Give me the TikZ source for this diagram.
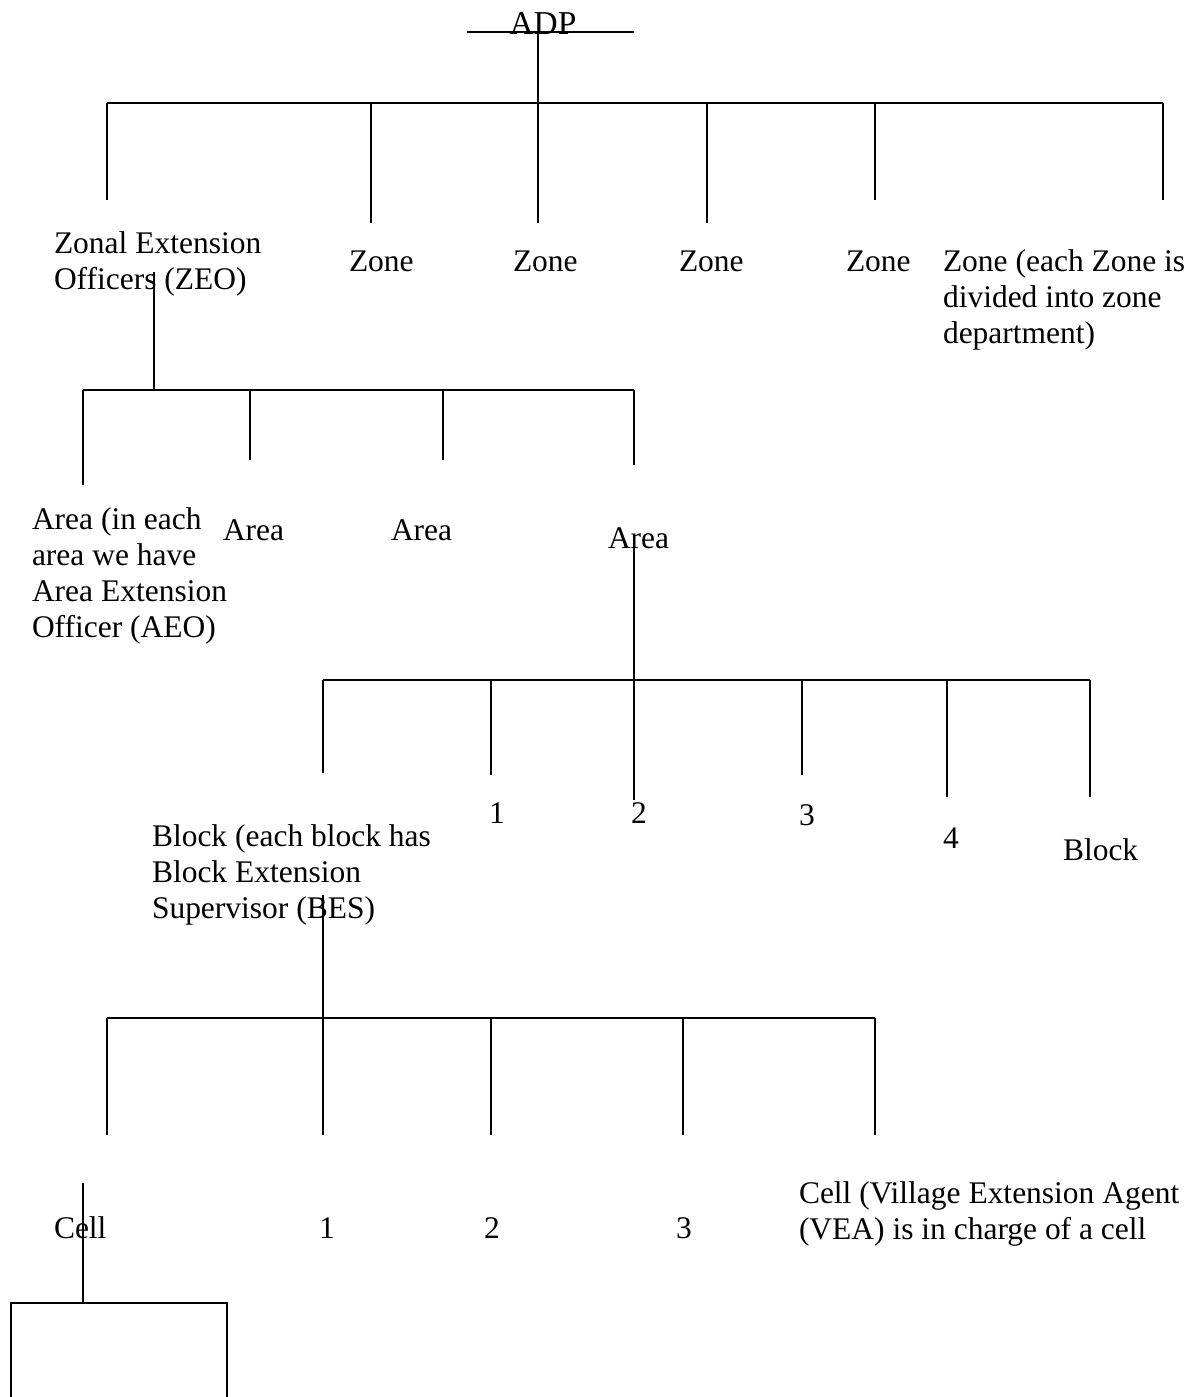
\documentclass[tikz,border=0pt]{standalone}
\usepackage{fontspec}
\setmainfont{Liberation Serif}
\begin{document}
\begin{tikzpicture}[x=0.05cm,y=-0.05cm,
  every path/.style={line width=0.1cm},
  lbl/.style={inner sep=0pt,anchor=base west,align=left,
    font=\fontsize{44.8}{51.2}\selectfont}]
\useasboundingbox (0,0) rectangle (1198,1397);

% ---------- level 0: ADP ----------
\node[lbl,anchor=base,font=\fontsize{47.5}{51.2}\selectfont] (adp) at (543,34) {ADP};
\coordinate (adpL) at (467,32);
\coordinate (adpR) at (634,32);
\coordinate (adpC) at (538,32);
\draw (adpL) -- (adpR);

% ---------- level 1: zones ----------
\coordinate (zbarL) at (107,103);
\coordinate (zbarR) at (1163,103);
\draw (zbarL) -- (zbarR);
\coordinate (z1) at (107,200);
\coordinate (z2t) at (371,103);  \coordinate (z2) at (371,223);
\coordinate (z3) at (538,223);
\coordinate (z4t) at (707,103);  \coordinate (z4) at (707,223);
\coordinate (z5t) at (875,103);  \coordinate (z5) at (875,200);
\coordinate (z6) at (1163,200);
\draw (adpC) -- (z3);
\draw (zbarL) -- (z1);
\draw (z2t) -- (z2);
\draw (z4t) -- (z4);
\draw (z5t) -- (z5);
\draw (zbarR) -- (z6);

% multi-line labels are placed by the baseline of their last line
\node[lbl] (zeo) at (53,289) {Zonal Extension\\Officers (ZEO)};
\node[lbl] (zone2) at (348,271) {Zone};
\node[lbl] (zone3) at (512,271) {Zone};
\node[lbl] (zone4) at (678,271) {Zone};
\node[lbl] (zone5) at (845,271) {Zone};
\node[lbl] (zone6) at (942,343) {Zone (each Zone is\\divided into zone\\department)};

% ---------- level 2: areas ----------
\coordinate (zeoT) at (154,272);
\coordinate (abarL) at (83,390);
\coordinate (abarR) at (634,390);
\coordinate (abarZ) at (154,390);
\draw (zeoT) -- (abarZ);
\draw (abarL) -- (abarR);
\coordinate (a1) at (83,485);
\coordinate (a2t) at (250,390); \coordinate (a2) at (250,460);
\coordinate (a3t) at (443,390); \coordinate (a3) at (443,460);
\coordinate (a4) at (634,465);
\draw (abarL) -- (a1);
\draw (a2t) -- (a2);
\draw (a3t) -- (a3);
\draw (abarR) -- (a4);

\node[lbl] (area1) at (31,637) {Area (in each\\area we have\\Area Extension\\Officer (AEO)};
\node[lbl] (area2) at (222,540) {Area};
\node[lbl] (area3) at (390,540) {Area};
\node[lbl] (area4) at (607,548) {Area};

% ---------- level 3: blocks ----------
\coordinate (areaT) at (634,538);
\coordinate (bbarL) at (323,680);
\coordinate (bbarR) at (1090,680);
\draw (bbarL) -- (bbarR);
\coordinate (b1) at (323,773);
\coordinate (b2t) at (491,680); \coordinate (b2) at (491,775);
\coordinate (b3) at (634,800);
\coordinate (b4t) at (802,680); \coordinate (b4) at (802,775);
\coordinate (b5t) at (947,680); \coordinate (b5) at (947,797);
\coordinate (b6) at (1090,797);
\draw (areaT) -- (b3);
\draw (bbarL) -- (b1);
\draw (b2t) -- (b2);
\draw (b4t) -- (b4);
\draw (b5t) -- (b5);
\draw (bbarR) -- (b6);

\node[lbl] (blk1) at (151,918) {Block (each block has\\Block Extension\\Supervisor (BES)};
\node[lbl] (blkn1) at (488,823) {1};
\node[lbl] (blkn2) at (630,823) {2};
\node[lbl] (blkn3) at (798,825) {3};
\node[lbl] (blkn4) at (942,848) {4};
\node[lbl] (blk6) at (1062,860) {Block};

% ---------- level 4: cells ----------
\coordinate (besT) at (323,895);
\coordinate (cbarL) at (107,1018);
\coordinate (cbarR) at (875,1018);
\draw (cbarL) -- (cbarR);
\coordinate (c1) at (107,1135);
\coordinate (c2) at (323,1135);
\coordinate (c3t) at (491,1018); \coordinate (c3) at (491,1135);
\coordinate (c4t) at (683,1018); \coordinate (c4) at (683,1135);
\coordinate (c5) at (875,1135);
\draw (besT) -- (c2);
\draw (cbarL) -- (c1);
\draw (c3t) -- (c3);
\draw (c4t) -- (c4);
\draw (cbarR) -- (c5);

\node[lbl] (cell1) at (53,1238) {Cell};
\node[lbl] (celln1) at (318,1238) {1};
\node[lbl] (celln2) at (483,1238) {2};
\node[lbl] (celln3) at (675,1238) {3};
\node[lbl] (cell5) at (798,1239) {Cell (Village Extension Agent\\(VEA) is in charge of a cell};

% ---------- level 5: open box below the cell ----------
\coordinate (cellT) at (83,1183);
\coordinate (boxTC) at (83,1303);
\coordinate (boxTL) at (11,1303);
\coordinate (boxTR) at (227,1303);
\coordinate (boxBL) at (11,1397);
\coordinate (boxBR) at (227,1397);
\draw (cellT) -- (boxTC);
\draw (boxBL) -- (boxTL) -- (boxTR) -- (boxBR);
\end{tikzpicture}
\end{document}
